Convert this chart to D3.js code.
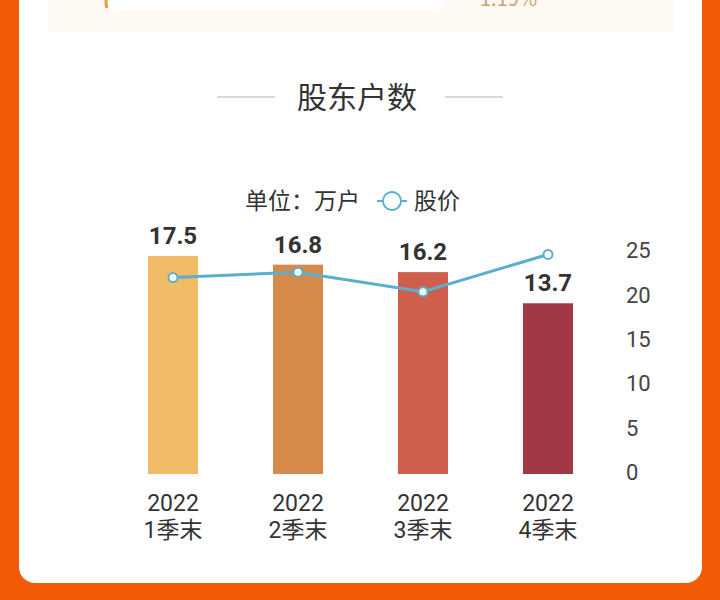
<!DOCTYPE html>
<html><head><meta charset="utf-8">
<script src="https://cdn.jsdelivr.net/npm/d3@7/dist/d3.min.js"></script>
<style>html,body{margin:0;padding:0;background:#F25A06;}svg{display:block;}</style>
</head><body>
<script>
const categories = ["2022\n1季末", "2022\n2季末", "2022\n3季末", "2022\n4季末"];
const holders = [17.5, 16.8, 16.2, 13.7];
const prices = [21.9, 22.5, 20.3, 24.5];
const priceTicks = [0, 5, 10, 15, 20, 25];
const barColors = ["#EFBB67", "#D5894B", "#CF5E4C", "#A23746"];
const title = "股东户数";
const unitLabel = "单位：万户";
const legendLabel = "股价";

const W = 720, H = 600;
const svg = d3.select("body").append("svg").attr("width", W).attr("height", H);
const font = "'Noto Sans CJK SC', Roboto, sans-serif";

// background + card
svg.append("rect").attr("width", W).attr("height", H).attr("fill", "#F25A06");
svg.append("rect").attr("x", 19).attr("y", -40).attr("width", 683).attr("height", 623).attr("rx", 16).attr("fill", "#fff");
// top beige panel remnant
svg.append("rect").attr("x", 48).attr("y", -20).attr("width", 625).attr("height", 52).attr("fill", "#FFF9F3");
svg.append("rect").attr("x", 105).attr("y", -30).attr("width", 340).attr("height", 40).attr("rx", 10).attr("fill", "#fff");
svg.append("path").attr("d", "M110,-10 Q104,0 107,8").attr("fill", "none").attr("stroke", "#D9A24A").attr("stroke-width", 3);
svg.append("text").attr("x", 480).attr("y", 6).attr("font-family", font).attr("font-size", 20).attr("fill", "#C9A46A").text("1.19%");

// title
svg.append("text").attr("x", 357).attr("y", 108).attr("text-anchor", "middle").attr("font-family", font).attr("font-size", 30).attr("fill", "#333").text(title);
svg.append("line").attr("x1", 217).attr("x2", 275).attr("y1", 97).attr("y2", 97).attr("stroke", "#ccc").attr("stroke-width", 1.5);
svg.append("line").attr("x1", 445).attr("x2", 503).attr("y1", 97).attr("y2", 97).attr("stroke", "#ccc").attr("stroke-width", 1.5);

// legend
svg.append("text").attr("x", 245).attr("y", 209).attr("font-family", font).attr("font-size", 23).attr("fill", "#333").text(unitLabel);
svg.append("line").attr("x1", 377).attr("x2", 407).attr("y1", 201).attr("y2", 201).attr("stroke", "#5AAFCF").attr("stroke-width", 2);
svg.append("circle").attr("cx", 392).attr("cy", 201).attr("r", 9).attr("fill", "#fff").attr("stroke", "#5AAFCF").attr("stroke-width", 2);
svg.append("text").attr("x", 414).attr("y", 209).attr("font-family", font).attr("font-size", 23).attr("fill", "#333").text(legendLabel);

// scales
const x = d3.scaleBand().domain(categories).range([110.5, 610.5]).paddingInner(0.6).paddingOuter(0.3);
const yBar = d3.scaleLinear().domain([0, 18]).range([474, 249.7]);
const yPrice = d3.scaleLinear().domain([0, 25]).range([472, 250]);

// bars
svg.selectAll("rect.bar").data(holders).join("rect").attr("class", "bar")
  .attr("x", (d, i) => x(categories[i])).attr("width", x.bandwidth())
  .attr("y", d => yBar(d)).attr("height", d => yBar(0) - yBar(d))
  .attr("fill", (d, i) => barColors[i]);

// value labels
svg.selectAll("text.val").data(holders).join("text").attr("class", "val")
  .attr("x", (d, i) => x(categories[i]) + x.bandwidth() / 2)
  .attr("y", d => yBar(d) - 12)
  .attr("text-anchor", "middle").attr("font-family", "Roboto, sans-serif").attr("font-weight", "bold")
  .attr("font-size", 24).attr("fill", "#333").text(d => d.toFixed(1));

// price line
const cx = (i) => x(categories[i]) + x.bandwidth() / 2;
const line = d3.line().x((d, i) => cx(i)).y(d => yPrice(d));
svg.append("path").datum(prices).attr("d", line).attr("fill", "none").attr("stroke", "#5AAFCF").attr("stroke-width", 3);
svg.selectAll("circle.pt").data(prices).join("circle").attr("class", "pt")
  .attr("cx", (d, i) => cx(i)).attr("cy", d => yPrice(d)).attr("r", 4.5)
  .attr("fill", "#fff").attr("stroke", "#5AAFCF").attr("stroke-width", 2);

// right axis
const axis = d3.axisRight(yPrice).tickValues(priceTicks).tickSize(0).tickPadding(0);
const ag = svg.append("g").attr("transform", "translate(626,0)").call(axis);
ag.select(".domain").remove();
ag.selectAll("text").attr("font-family", "Roboto, sans-serif").attr("font-size", 22).attr("fill", "#444").attr("dy", "0.35em");

// x labels
const xa = d3.axisBottom(x).tickSize(0).tickFormat("");
const xg = svg.append("g").attr("transform", "translate(0,474)").call(xa);
xg.select(".domain").remove();
xg.selectAll(".tick").each(function(d) {
  const parts = d.split("\n");
  const t = d3.select(this).append("text").attr("text-anchor", "middle").attr("font-family", "Roboto, 'Noto Sans CJK SC', sans-serif").attr("font-size", 23).attr("fill", "#333");
  t.append("tspan").attr("x", 0).attr("y", 37).text(parts[0]);
  t.append("tspan").attr("x", 0).attr("y", 64).text(parts[1]);
});
</script>
</body></html>
